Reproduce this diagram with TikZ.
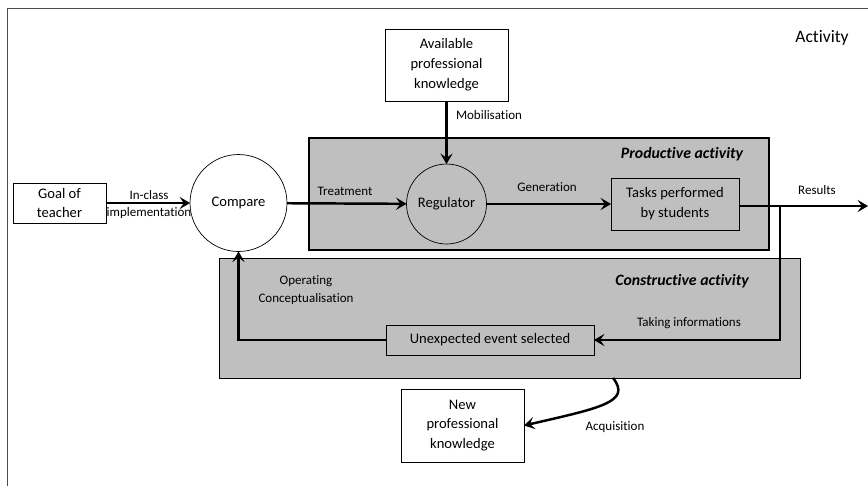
\documentclass[tikz,border=0pt]{standalone}
\usepackage{fontspec}
\setmainfont{Carlito}[Ligatures=NoCommon]
\usetikzlibrary{
arrows.meta,
positioning,
}
\tikzset{
outer sep=0pt,
every node/.style={align=center},
process/.style={rectangle, draw, thin, inner sep=1pt, font=\fontsize{8.3}{11.3}\selectfont},
regulator/.style={circle, draw, thin, inner sep=1pt, font=\fontsize{8.3}{11.3}\selectfont},
blank/.style={fill=white},
activity/.style={draw, fill=black!25},
flow/.style={line width=1.4pt, -{Stealth[length=6pt, width=7pt, inset=2.5pt]}},
tag/.style={font=\fontsize{7.4}{10}\selectfont},
title/.style={font=\fontsize{9}{11}\selectfont\bfseries\itshape},
}

\begin{document}
\begin{tikzpicture}[x=0.02cm, y=-0.02cm]
    \useasboundingbox (0,0) rectangle (868,485);
    \draw [black!70] (7,8) rectangle (880,495);
    \node at (822,38) {\fontsize{10}{12}\selectfont Activity};
    % the two activity areas
    \draw [activity, line width=1.6pt] (309,138) rectangle (769,250);
    \draw [activity] (219,258) rectangle (800,378);
    \node [title] at (682,154) {Productive activity};
    \node [title] at (682,281) {Constructive activity};
    % boxes and circles
    \node (avail) [process, blank, minimum width=2.46cm, minimum height=1.44cm] at (446.5,65) {Available\\professional\\knowledge};
    \node (goal) [process, blank, minimum width=1.86cm, minimum height=0.8cm] at (59.5,203) {Goal of\\teacher};
    \node (compare) [regulator, blank, minimum size=1.94cm] at (238.5,203) {Compare};
    \node (reg) [regulator, minimum size=1.6cm] at (446.5,204) {Regulator};
    \node (tasks) [process, minimum width=2.56cm, minimum height=1.04cm] at (675,204) {Tasks performed\\by students};
    \node (event) [process, minimum width=4.16cm, minimum height=0.6cm] at (490,340) {Unexpected event selected};
    \node (new) [process, blank, minimum width=2.46cm, minimum height=1.46cm] at (462.5,425.5) {New\\professional\\knowledge};
    \coordinate (split) at (780,206);
    \coordinate (out) at (868,206);
    \coordinate (acq) at (613,378);
    % connectors
    \draw [flow] (avail) -- (reg);
    \draw [flow] (goal) -- (compare);
    \draw [flow] (compare) -- (reg);
    \draw [flow] (reg) -- (tasks);
    \draw [flow] (tasks.east |- split) -- (out);
    \draw [flow] (split) |- (event);
    \draw [flow] (event.west) -| (compare.south);
    \draw [flow] (acq) .. controls (632,402) and (600,408) .. (new.east);
    % labels
    \node [tag] at (489,115) {Mobilisation};
    \node [tag, font=\fontsize{7.4}{9.6}\selectfont] at (149,204.5) {In-class\\implementation};
    \node [tag] at (345,191) {Treatment};
    \node [tag] at (547,187) {Generation};
    \node [tag] at (817,190) {Results};
    \node [tag] at (689,323) {Taking informations};
    \node [tag, font=\fontsize{7.4}{10.2}\selectfont] at (306,290) {Operating\\Conceptualisation};
    \node [tag] at (615,427) {Acquisition};
\end{tikzpicture}
\end{document}
